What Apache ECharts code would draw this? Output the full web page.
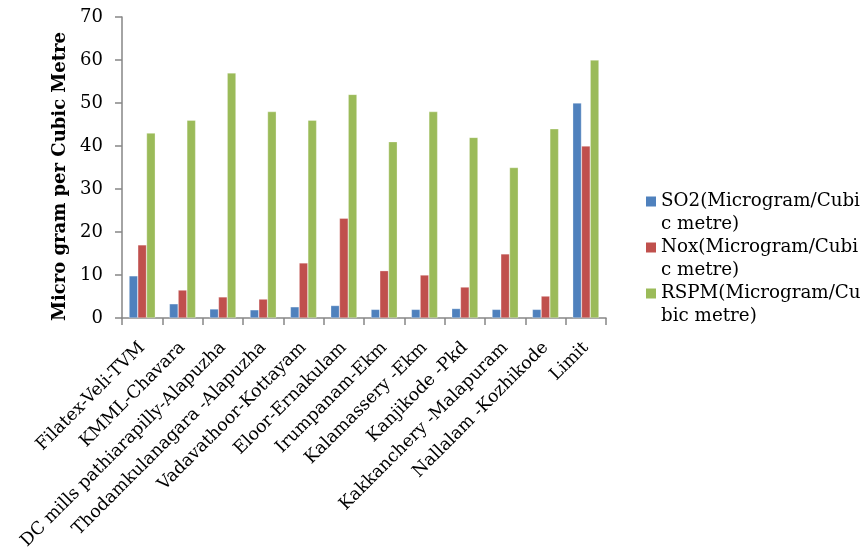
<!DOCTYPE html>
<html><head><meta charset="utf-8">
<script src="https://cdn.jsdelivr.net/npm/echarts@6/dist/echarts.min.js"></script>
<style>html,body{margin:0;padding:0;background:#fff}#c{width:861px;height:554px}</style>
</head><body><div id="c"></div>
<script>
var categories = ["Filatex-Veli-TVM","KMML-Chavara","DC mills pathiarapilly-Alapuzha","Thodamkulanagara -Alapuzha","Vadavathoor-Kottayam","Eloor-Ernakulam","Irumpanam-Ekm","Kalamassery -Ekm","Kanjikode -Pkd","Kakkanchery -Malapuram","Nallalam -Kozhikode","Limit"];
var so2 = [9.8, 3.3, 2.1, 1.9, 2.6, 2.9, 2, 2, 2.2, 2, 2, 50];
var nox = [17, 6.5, 4.9, 4.4, 12.8, 23.2, 11, 10, 7.2, 14.9, 5.1, 40];
var rspm = [43, 46, 57, 48, 46, 52, 41, 48, 42, 35, 44, 60];
var seriesNames = ["SO2(Microgram/Cubic metre)","Nox(Microgram/Cubic metre)","RSPM(Microgram/Cubic metre)"];
var legendLabels = ["SO2(Microgram/Cubi\nc metre)","Nox(Microgram/Cubi\nc metre)","RSPM(Microgram/Cu\nbic metre)"];
var yTicks = [0,10,20,30,40,50,60,70];
var yTitle = "Micro gram per Cubic Metre";
var colors = ["#4F81BD","#C0504D","#9BBB59"];
var font = "DejaVu Serif";

var chart = echarts.init(document.getElementById('c'), null, {renderer:'canvas'});
var vals = [so2, nox, rspm];
chart.setOption({
  animation:false,
  color: colors,
  grid:{left:122, right:255, top:17, bottom:236, containLabel:false},
  legend:{
    orient:'vertical', left:646, top:167, itemWidth:10, itemHeight:10, itemGap:-23,
    icon:'rect', padding:0,
    itemStyle:{borderWidth:0},
    data: seriesNames,
    formatter:function(n){return '\n' + legendLabels[seriesNames.indexOf(n)];},
    textStyle:{fontFamily:font, fontSize:18.3, color:'#000', lineHeight:23}
  },
  xAxis:{
    type:'category', data:categories,
    axisLine:{lineStyle:{color:'#868686', width:1.5}},
    axisTick:{show:true, alignWithLabel:false, length:7, lineStyle:{color:'#868686', width:1.5}},
    axisLabel:{rotate:45, interval:0, fontFamily:font, fontSize:17.5, color:'#000', margin:27}
  },
  yAxis:{
    type:'value', min:0, max:70, interval:10,
    name:yTitle, nameLocation:'middle', nameGap:50,
    nameTextStyle:{fontFamily:font, fontSize:18, fontWeight:'bold', color:'#000', padding:[0,18,0,0]},
    axisLine:{show:true, lineStyle:{color:'#868686', width:1.5}},
    axisTick:{show:true, length:7, lineStyle:{color:'#868686', width:1.5}},
    splitLine:{show:false},
    axisLabel:{fontFamily:font, fontSize:18, color:'#000', margin:19,
      formatter:function(v){return yTicks.indexOf(v)>=0?String(v):'';}}
  },
  series: seriesNames.map(function(n,i){
    return {name:n, type:'bar', data:vals[i], barGap:'0%', barCategoryGap:'35%',
      itemStyle:{color:colors[i], borderColor:'rgba(255,255,255,0.6)', borderWidth:0.5}};
  })
});
</script></body></html>
